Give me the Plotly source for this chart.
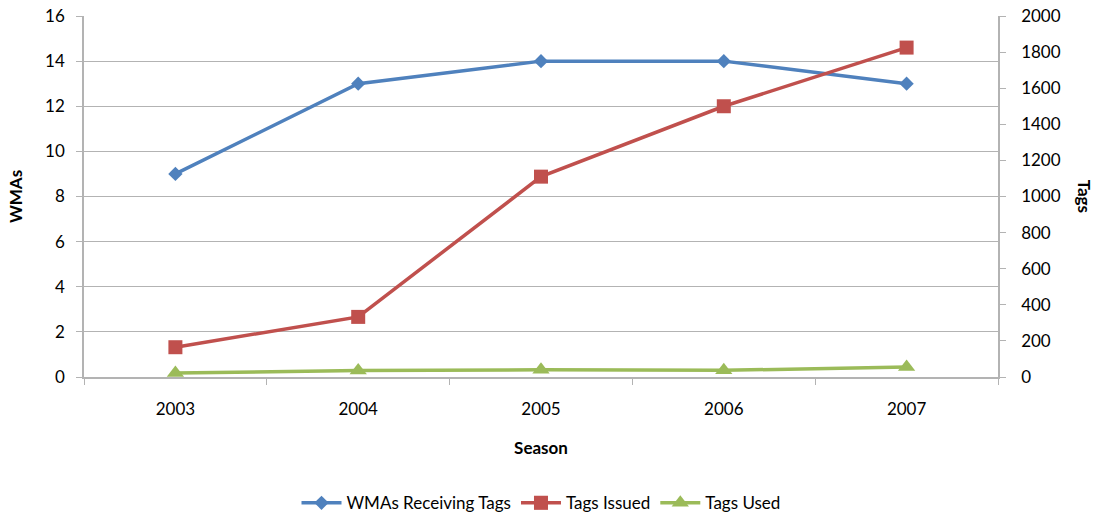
import plotly.graph_objects as go

# Data
seasons = ["2003", "2004", "2005", "2006", "2007"]
wmas_receiving = [9, 13, 14, 14, 13]
tags_issued = [165, 333, 1110, 1500, 1825]
tags_used = [22, 36, 40, 37, 55]

FONT = "Lato, 'Open Sans', sans-serif"
GRID = "#b3b3b3"

fig = go.Figure()

fig.add_trace(go.Scatter(
    x=seasons, y=wmas_receiving, name="WMAs Receiving Tags",
    mode="lines+markers",
    line=dict(color="#4F81BD", width=3.5),
    marker=dict(symbol="diamond", size=11, color="#4F81BD"),
    yaxis="y"
))
fig.add_trace(go.Scatter(
    x=seasons, y=tags_issued, name="Tags Issued",
    mode="lines+markers",
    line=dict(color="#C0504D", width=3.5),
    marker=dict(symbol="square", size=14, color="#C0504D"),
    yaxis="y2"
))
fig.add_trace(go.Scatter(
    x=seasons, y=tags_used, name="Tags Used",
    mode="lines+markers",
    line=dict(color="#9BBB59", width=3.5),
    marker=dict(symbol="triangle-up", size=15, color="#9BBB59"),
    yaxis="y2"
))

fig.update_layout(
    width=1097, height=517,
    margin=dict(l=84, r=99, t=16, b=140, autoexpand=False),
    paper_bgcolor="white", plot_bgcolor="white",
    font=dict(family=FONT, size=17, color="#000000"),
    xaxis=dict(
        type="category",
        range=[-0.5, 4.5],
        tickson="boundaries",
        ticks="outside", ticklen=6, tickcolor=GRID,
        ticklabelstandoff=16,
        showline=True, linecolor=GRID, linewidth=1.5,
        showgrid=False, automargin=False,
        title=dict(text="<b>Season</b>", font=dict(size=17), standoff=24),
        tickfont=dict(size=17),
    ),
    yaxis=dict(
        range=[0, 16], dtick=2,
        showgrid=True, gridcolor=GRID, gridwidth=1,
        showline=True, linecolor=GRID, linewidth=1.5,
        ticks="outside", ticklen=6, tickcolor=GRID,
        ticklabelstandoff=8, ticklabeloverflow="allow",
        zeroline=False, automargin=False,
        title=dict(text="<b>WMAs</b>", font=dict(size=17), standoff=18),
        tickfont=dict(size=17),
    ),
    yaxis2=dict(
        range=[0, 2000], dtick=200,
        overlaying="y", side="right",
        showgrid=False,
        showline=True, linecolor=GRID, linewidth=1.5,
        ticks="outside", ticklen=6, tickcolor=GRID,
        ticklabelstandoff=12, ticklabeloverflow="allow",
        zeroline=False, automargin=False,
        tickfont=dict(size=17),
    ),
    legend=dict(
        orientation="h", x=0.5, xanchor="center", y=-0.30, yanchor="top",
        font=dict(size=17), itemwidth=40, tracegroupgap=0,
    ),
    annotations=[dict(
        text="<b>Tags</b>", textangle=90,
        xref="paper", yref="paper", x=1.095, y=0.5,
        xanchor="center", yanchor="middle", showarrow=False,
        font=dict(size=17),
    )],
)

# drop the default 8px body margin so the figure fills the window
fig.write_html("out.html", config={"displayModeBar": False},
               post_script="document.body.style.margin='0px';")
